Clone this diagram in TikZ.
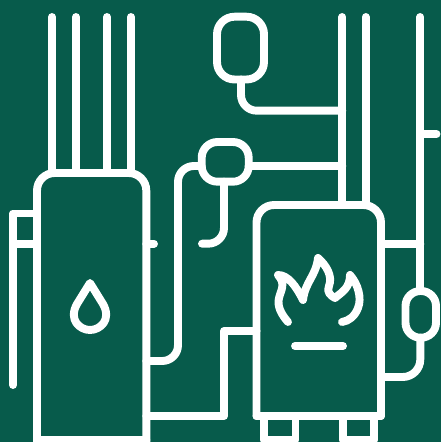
\documentclass[tikz,border=0pt]{standalone}
\definecolor{boilergreen}{HTML}{075B4B}
\tikzset{pipe/.style={draw=white,line width=4.5pt,line cap=round,line join=round}}
\begin{document}
\begin{tikzpicture}[x=0.02cm,y=-0.02cm]
\useasboundingbox (0,0) rectangle (441,442);
\clip (0,0) rectangle (441,442);
\fill[boilergreen] (0,0) rectangle (441,442);

% tank
\draw[pipe,rounded corners=10pt] (37,442) -- (37,173) -- (146.3,173) -- (146.3,442);
\draw[pipe] (37,440) -- (146.3,440);
\draw[pipe] (52,17) -- (52,173);
\draw[pipe] (76,17) -- (76,173);
\draw[pipe] (107,17) -- (107,173);
\draw[pipe] (131,17) -- (131,173);
\draw[pipe] (37,213.5) -- (13,213.5) -- (13,385);
\draw[pipe] (13,243.7) -- (37,243.7);
\draw[pipe] (146.3,243.7) -- (154,243.7);
\draw[pipe] (90,283) -- (77,304) .. controls (68,320) and (80,330) .. (90,330)
  .. controls (100,330) and (112,320) .. (103,304) -- cycle;

% pump and vessel
\draw[pipe,rounded corners=9pt] (201.7,142) rectangle (248.7,181.7);
\draw[pipe,rounded corners=10pt] (217,16.7) rectangle (264,79.5);
\draw[pipe,rounded corners=9pt] (146.3,361) -- (178,361) -- (178,166) -- (201.7,166);
\draw[pipe,rounded corners=9pt] (224,181.7) -- (224,243.7) -- (202,243.7);
\draw[pipe,rounded corners=9pt] (241,79.5) -- (241,110.7) -- (342.3,110.7);
\draw[pipe] (248.7,165.7) -- (342.3,165.7);

% risers
\draw[pipe] (342.3,17) -- (342.3,205);
\draw[pipe] (365.7,17) -- (365.7,205);
\draw[pipe] (420.3,17) -- (420.3,291);
\draw[pipe] (420.3,134) -- (436.5,134);

% boiler
\draw[pipe,rounded corners=10pt] (256.5,416) -- (256.5,205) -- (381,205) -- (381,416);
\draw[pipe] (256.5,416) -- (381,416);
\draw[pipe] (264,416) -- (264,440) -- (295.5,440) -- (295.5,416);
\draw[pipe] (343,416) -- (343,440) -- (374,440) -- (374,416);
\draw[pipe] (146.3,416) -- (224,416) -- (224,331) -- (256.5,331);
\draw[pipe] (381,243.7) -- (420.3,243.7);
\draw[pipe,rounded corners=8.5pt] (405.5,291) rectangle (436,337.7);
\draw[pipe,rounded corners=10pt] (420.3,337.7) -- (420.3,377) -- (381,377);
\draw[pipe] (295,346) -- (343,346);

% flame
\draw[pipe] (288,322) .. controls (281,314) and (277,306) .. (279,298)
  .. controls (281,290) and (286,284) .. (278,275)
  .. controls (288,275) and (296,286) .. (303,300)
  .. controls (305,282) and (316,276) .. (318,258)
  .. controls (326,265) and (333,276) .. (329,286)
  .. controls (326,292) and (331,296) .. (335,298)
  .. controls (342,292) and (350,288) .. (350,275)
  .. controls (358,284) and (362,298) .. (358,308)
  .. controls (355,316) and (349,321) .. (342,322);
\end{tikzpicture}
\end{document}
